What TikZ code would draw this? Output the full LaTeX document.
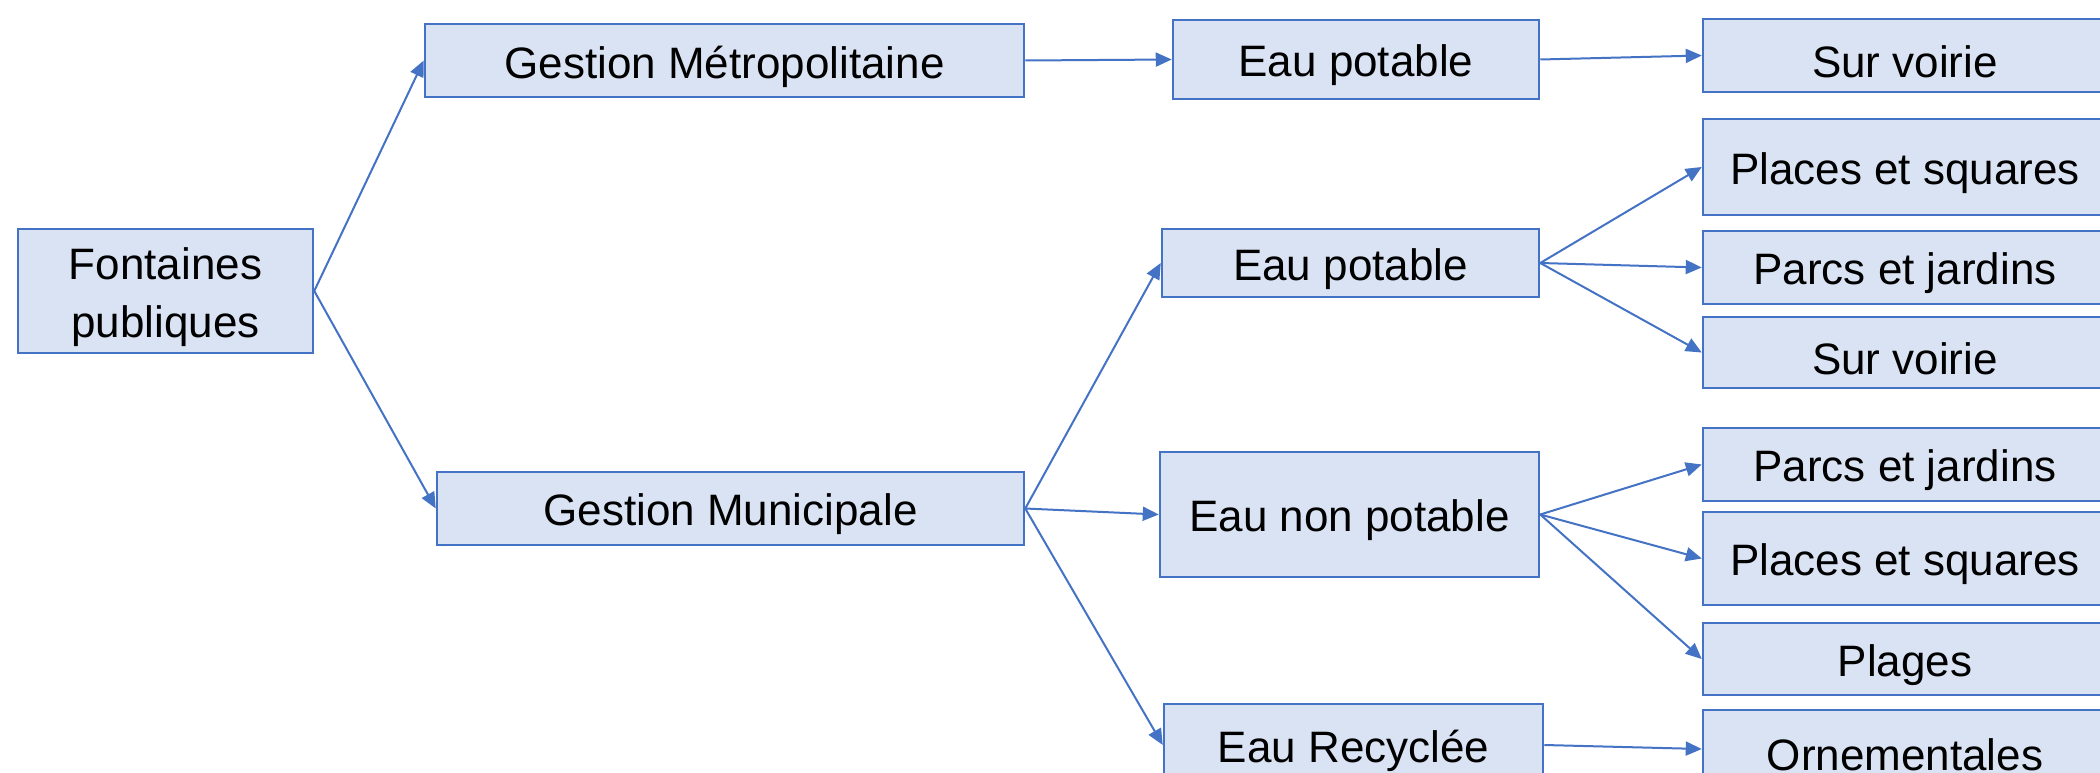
\documentclass[tikz,border=0pt]{standalone}
\usepackage{fontspec}
\setmainfont{Liberation Sans}
\usetikzlibrary{arrows.meta}
\definecolor{bord}{HTML}{4472C4}
\definecolor{fillb}{HTML}{DAE3F3}
\tikzset{
  box/.style={draw=bord, fill=fillb, line width=2.5pt, inner sep=0pt},
  txt/.style={inner sep=0pt, align=center, font=\fontsize{44}{58}\selectfont},
  conn/.style={draw=bord, line width=2pt, -{Triangle[length=16pt,width=14pt]}}
}
\newcommand{\bx}[6]{% name x1 x2 y1 y2 text
  \node[box, minimum width={#3-#2}, minimum height={#5-#4}] (#1) at ({(#2+#3)/2},{(#4+#5)/2}) {};
  \node[txt] (#1t) at ({(#2+#3)/2},{(#4+#5)/2+6}) {#6};}
\begin{document}
\begin{tikzpicture}[x=1pt,y=-1pt]
\useasboundingbox (0,0) rectangle (2100,773);
\clip (0,0) rectangle (2100,773);
\fill[white] (0,0) rectangle (2100,773);
\bx{fp}{18}{313}{229}{353}{Fontaines\\publiques}
\bx{gm}{425}{1024}{24}{97}{Gestion Métropolitaine}
\bx{gmu}{437}{1024}{472}{545}{Gestion Municipale}
\bx{epa}{1173}{1539}{20}{99}{Eau potable}
\bx{epb}{1162}{1539}{229}{297}{Eau potable}
\bx{enp}{1160}{1539}{452}{577}{Eau non potable}
\bx{er}{1164}{1543}{704}{786}{Eau Recyclée}
\bx{sva}{1703}{2107}{19}{92}{Sur voirie}
\bx{psa}{1703}{2107}{119}{215}{Places et squares}
\bx{pja}{1703}{2107}{231}{304}{Parcs et jardins}
\bx{svb}{1703}{2107}{317}{388}{Sur voirie}
\bx{pjb}{1703}{2107}{428}{501}{Parcs et jardins}
\bx{psb}{1703}{2107}{512}{605}{Places et squares}
\bx{pl}{1703}{2107}{623}{695}{Plages}
\bx{orn}{1703}{2107}{710}{788}{Ornementales}
\draw[conn] (fp.east) -- (gm.west);
\draw[conn] (fp.east) -- (gmu.west);
\draw[conn] (gm.east) -- (epa.west);
\draw[conn] (epa.east) -- (sva.west);
\draw[conn] (gmu.east) -- (epb.west);
\draw[conn] (gmu.east) -- (enp.west);
\draw[conn] (gmu.east) -- (er.west);
\draw[conn] (epb.east) -- (psa.west);
\draw[conn] (epb.east) -- (pja.west);
\draw[conn] (epb.east) -- (svb.west);
\draw[conn] (enp.east) -- (pjb.west);
\draw[conn] (enp.east) -- (psb.west);
\draw[conn] (enp.east) -- (pl.west);
\draw[conn] (er.east) -- (orn.west);
\end{tikzpicture}
\end{document}
